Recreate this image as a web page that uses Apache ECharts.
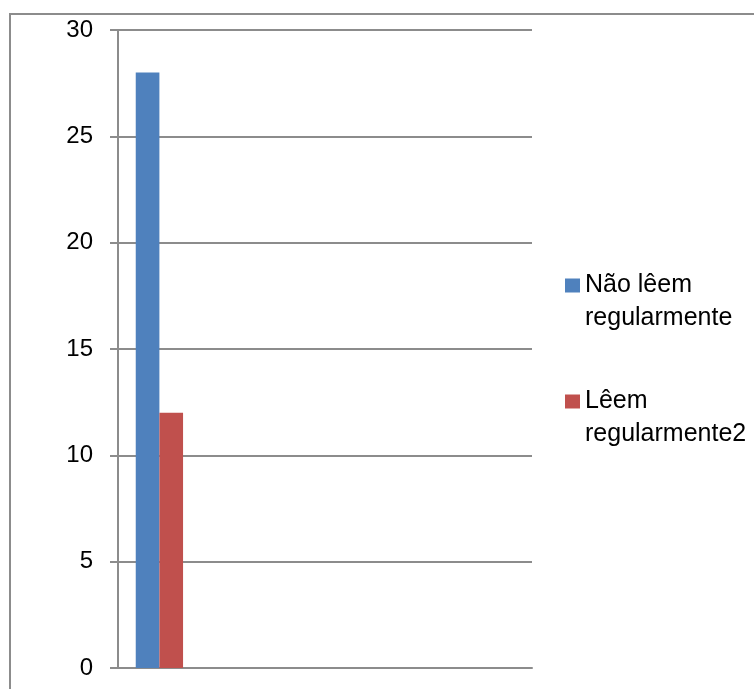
<!DOCTYPE html>
<html>
<head>
<meta charset="utf-8">
<script src="https://cdn.jsdelivr.net/npm/echarts@6/dist/echarts.min.js"></script>
<style>
html,body{margin:0;padding:0;background:#fff;}
#c{width:754px;height:689px;}
</style>
</head>
<body>
<div id="c"></div>
<script>
var categories = ['', '', '', '', ''];
var seriesNames = ['Não lêem regularmente', 'Lêem regularmente2'];
var legendTexts = ['Não lêem\nregularmente', 'Lêem\nregularmente2'];
var naoLeem = [28, '-', '-', '-', '-'];
var leem = [12, '-', '-', '-', '-'];
var yTicks = [0, 5, 10, 15, 20, 25, 30];

var chart = echarts.init(document.getElementById('c'), null, {renderer: 'canvas'});
var FONT = '"Liberation Sans", Arial, sans-serif';
var GRAY = '#8c8c8c';
chart.setOption({
  animation: false,
  backgroundColor: '#fff',
  graphic: [{
    type: 'polyline',
    shape: {points: [[10, 700], [10, 14], [760, 14]]},
    style: {stroke: GRAY, lineWidth: 2, fill: null},
    z: 100
  }],
  grid: {left: 118, right: 222, top: 30, bottom: 21, containLabel: false},
  legend: {
    orient: 'vertical',
    left: 560,
    top: 231,
    itemWidth: 15,
    itemHeight: 14,
    itemGap: 17,
    icon: 'rect',
    data: seriesNames,
    formatter: function (name) {
      return '\n' + legendTexts[seriesNames.indexOf(name)];
    },
    textStyle: {fontFamily: FONT, fontSize: 25, color: '#000', lineHeight: 33}
  },
  xAxis: {
    type: 'category',
    data: categories,
    axisLine: {show: true, lineStyle: {color: GRAY, width: 2}},
    axisTick: {show: false},
    axisLabel: {show: false},
    splitLine: {show: false}
  },
  yAxis: {
    type: 'value',
    min: yTicks[0],
    max: yTicks[yTicks.length - 1],
    interval: 5,
    axisLine: {show: true, lineStyle: {color: GRAY, width: 2}},
    axisTick: {show: true, length: 8, lineStyle: {color: GRAY, width: 2}},
    axisLabel: {margin: 25, fontFamily: FONT, fontSize: 24, color: '#000'},
    splitLine: {show: true, lineStyle: {color: GRAY, width: 2}}
  },
  series: [{
    name: seriesNames[0],
    type: 'bar',
    data: naoLeem,
    barGap: '0%',
    barCategoryGap: '42.86%',
    itemStyle: {color: '#4F81BD'}
  }, {
    name: seriesNames[1],
    type: 'bar',
    data: leem,
    barGap: '0%',
    barCategoryGap: '42.86%',
    itemStyle: {color: '#C0504D'}
  }]
});
</script>
</body>
</html>
